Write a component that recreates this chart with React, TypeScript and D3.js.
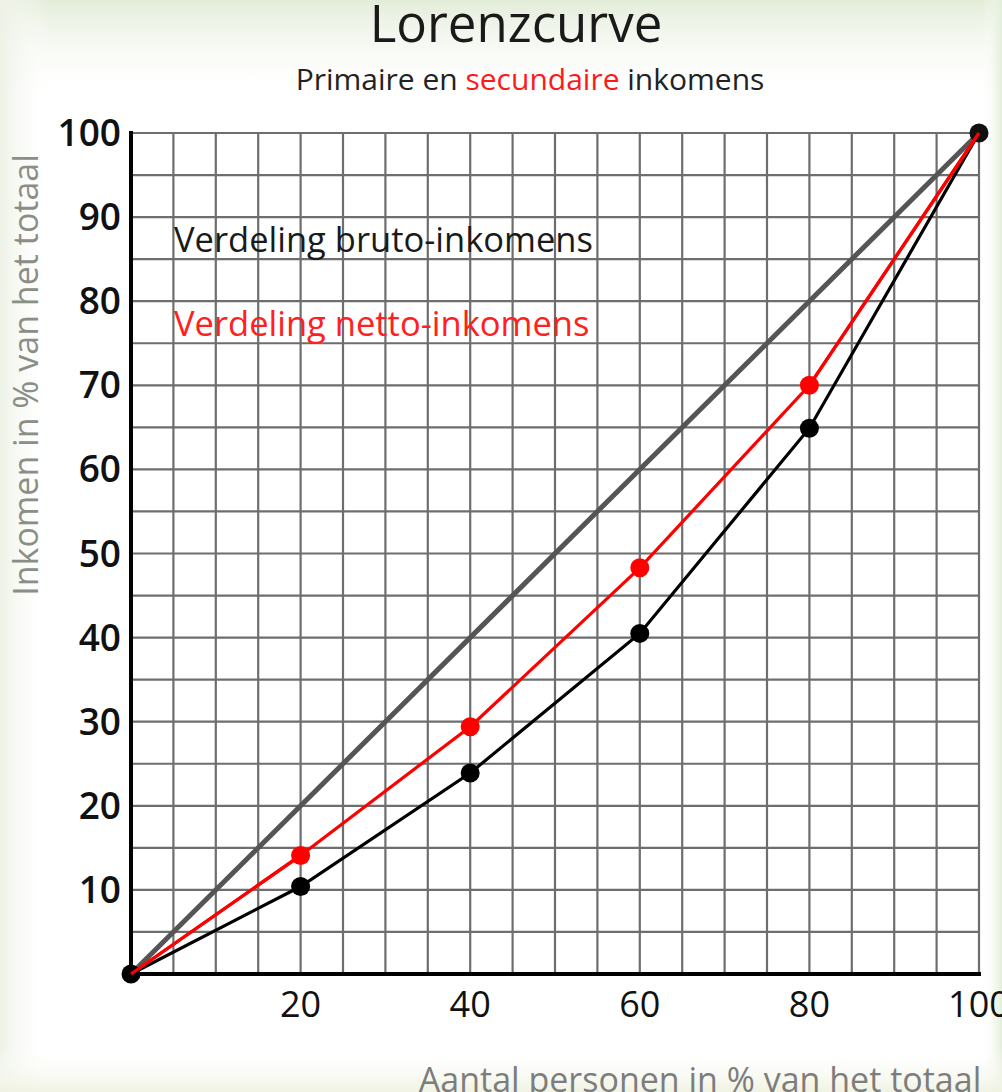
import React from "react";
import * as d3 from "d3";

const xPoints = [0, 20, 40, 60, 80, 100];
const brutoValues = [0, 10.4, 23.9, 40.5, 64.9, 100];
const nettoValues = [0, 14.1, 29.4, 48.3, 70.0, 100];
const equalityValues = [0, 100];
const equalityX = [0, 100];
const xTickLabels = [20, 40, 60, 80, 100];
const yTickLabels = [10, 20, 30, 40, 50, 60, 70, 80, 90, 100];
const gridSteps = d3.range(5, 100, 5);

const W = 1002;
const H = 1092;
const FONT = "'Open Sans', 'Noto Sans', sans-serif";

export default function App() {
  const x = d3.scaleLinear().domain([0, 100]).range([131, 979]);
  const y = d3.scaleLinear().domain([0, 100]).range([974, 133]);
  const line = d3
    .line<[number, number]>()
    .x((d) => x(d[0]))
    .y((d) => y(d[1]));

  const bruto: [number, number][] = xPoints.map((v, i) => [v, brutoValues[i]]);
  const netto: [number, number][] = xPoints.map((v, i) => [v, nettoValues[i]]);
  const eq: [number, number][] = equalityX.map((v, i) => [v, equalityValues[i]]);

  return (
    <svg
      width={W}
      height={H}
      style={{ position: "absolute", left: 0, top: 0 }}
      fontFamily={FONT}
    >
      <defs>
        <linearGradient id="topBg" x1="0" y1="0" x2="0" y2="1">
          <stop offset="0" stopColor="#e3ecd8" />
          <stop offset="1" stopColor="#ffffff" stopOpacity="0" />
        </linearGradient>
        <linearGradient id="rightBg" x1="0" y1="0" x2="1" y2="0">
          <stop offset="0" stopColor="#ffffff" stopOpacity="0" />
          <stop offset="1" stopColor="#e2efd8" />
        </linearGradient>
        <linearGradient id="leftBg" x1="1" y1="0" x2="0" y2="0">
          <stop offset="0" stopColor="#ffffff" stopOpacity="0" />
          <stop offset="1" stopColor="#edf1e6" />
        </linearGradient>
        <linearGradient id="botBg" x1="0" y1="0" x2="0" y2="1">
          <stop offset="0" stopColor="#ffffff" stopOpacity="0" />
          <stop offset="1" stopColor="#f0f3e2" />
        </linearGradient>
      </defs>
      <rect x={0} y={0} width={W} height={H} fill="#ffffff" />
      <rect x={0} y={0} width={W} height={100} fill="url(#topBg)" />
      <rect x={982} y={0} width={20} height={H} fill="url(#rightBg)" />
      <rect x={0} y={0} width={50} height={H} fill="url(#leftBg)" />
      <rect x={0} y={1045} width={W} height={47} fill="url(#botBg)" />

      {/* Title */}
      <text x={516} y={42} textAnchor="middle" fontSize={51} fill="#1a1a1a">
        Lorenzcurve
      </text>
      <text x={530} y={90} textAnchor="middle" fontSize={30} fill="#222">
        Primaire en <tspan fill="#ff1a1a">secundaire</tspan> inkomens
      </text>

      {/* Grid */}
      {gridSteps.map((g) => (
        <line key={"v" + g} x1={x(g)} x2={x(g)} y1={y(0)} y2={y(100)} stroke="#6e6e6e" strokeWidth={2.2} />
      ))}
      {gridSteps.map((g) => (
        <line key={"h" + g} x1={x(0)} x2={x(100)} y1={y(g)} y2={y(g)} stroke="#6e6e6e" strokeWidth={2.2} />
      ))}
      <line x1={x(0)} x2={x(100)} y1={y(100)} y2={y(100)} stroke="#6e6e6e" strokeWidth={2.2} />
      <line x1={x(100)} x2={x(100)} y1={y(0)} y2={y(100)} stroke="#6e6e6e" strokeWidth={2.2} />

      {/* Axes */}
      <line x1={x(0)} x2={x(0)} y1={y(0) + 1} y2={y(100) - 2} stroke="#000" strokeWidth={4} />
      <line x1={x(0)} x2={x(100) + 2} y1={y(0)} y2={y(0)} stroke="#000" strokeWidth={4} />

      {/* Y tick labels */}
      {yTickLabels.map((t) => (
        <text key={"yt" + t} x={121} y={y(t) + 13} textAnchor="end" fontSize={37} fontWeight={600} fill="#111">
          {t}
        </text>
      ))}
      {/* X tick labels */}
      {xTickLabels.map((t) => (
        <text key={"xt" + t} x={x(t)} y={1017} textAnchor="middle" fontSize={36} fontWeight={500} fill="#111">
          {t}
        </text>
      ))}

      {/* Axis titles */}
      <text
        transform={`translate(38, 375) rotate(-90)`}
        textAnchor="middle"
        fontSize={34}
        fill="#8a8f86"
      >
        Inkomen in % van het totaal
      </text>
      <text x={700} y={1092} textAnchor="middle" fontSize={34} fill="#7d7d7d">
        Aantal personen in % van het totaal
      </text>

      {/* Legend labels */}
      <text x={174} y={252} fontSize={34.5} fill="#1a1a1a">
        Verdeling bruto-inkomens
      </text>
      <text x={174} y={336} fontSize={34.5} fill="#ff2020">
        Verdeling netto-inkomens
      </text>

      {/* Lines */}
      <path d={line(eq) || ""} fill="none" stroke="#555555" strokeWidth={5} />
      <path d={line(bruto) || ""} fill="none" stroke="#000" strokeWidth={3.2} />
      <path d={line(netto) || ""} fill="none" stroke="#ff0000" strokeWidth={3.2} />

      {/* Points */}
      {netto.slice(1, -1).map((d, i) => (
        <circle key={"n" + i} cx={x(d[0])} cy={y(d[1])} r={9.5} fill="#ff0000" />
      ))}
      {bruto.slice(1, -1).map((d, i) => (
        <circle key={"b" + i} cx={x(d[0])} cy={y(d[1])} r={9.5} fill="#000" />
      ))}
      <circle cx={x(0)} cy={y(0)} r={9.5} fill="#000" />
      <circle cx={x(100)} cy={y(100)} r={9.5} fill="#111" />
      <path
        d={line([netto[netto.length - 2], netto[netto.length - 1]]) || ""}
        fill="none"
        stroke="#ff0000"
        strokeWidth={3.2}
      />
      <path d={line([netto[0], netto[1]]) || ""} fill="none" stroke="#ff0000" strokeWidth={3.2} />
    </svg>
  );
}
